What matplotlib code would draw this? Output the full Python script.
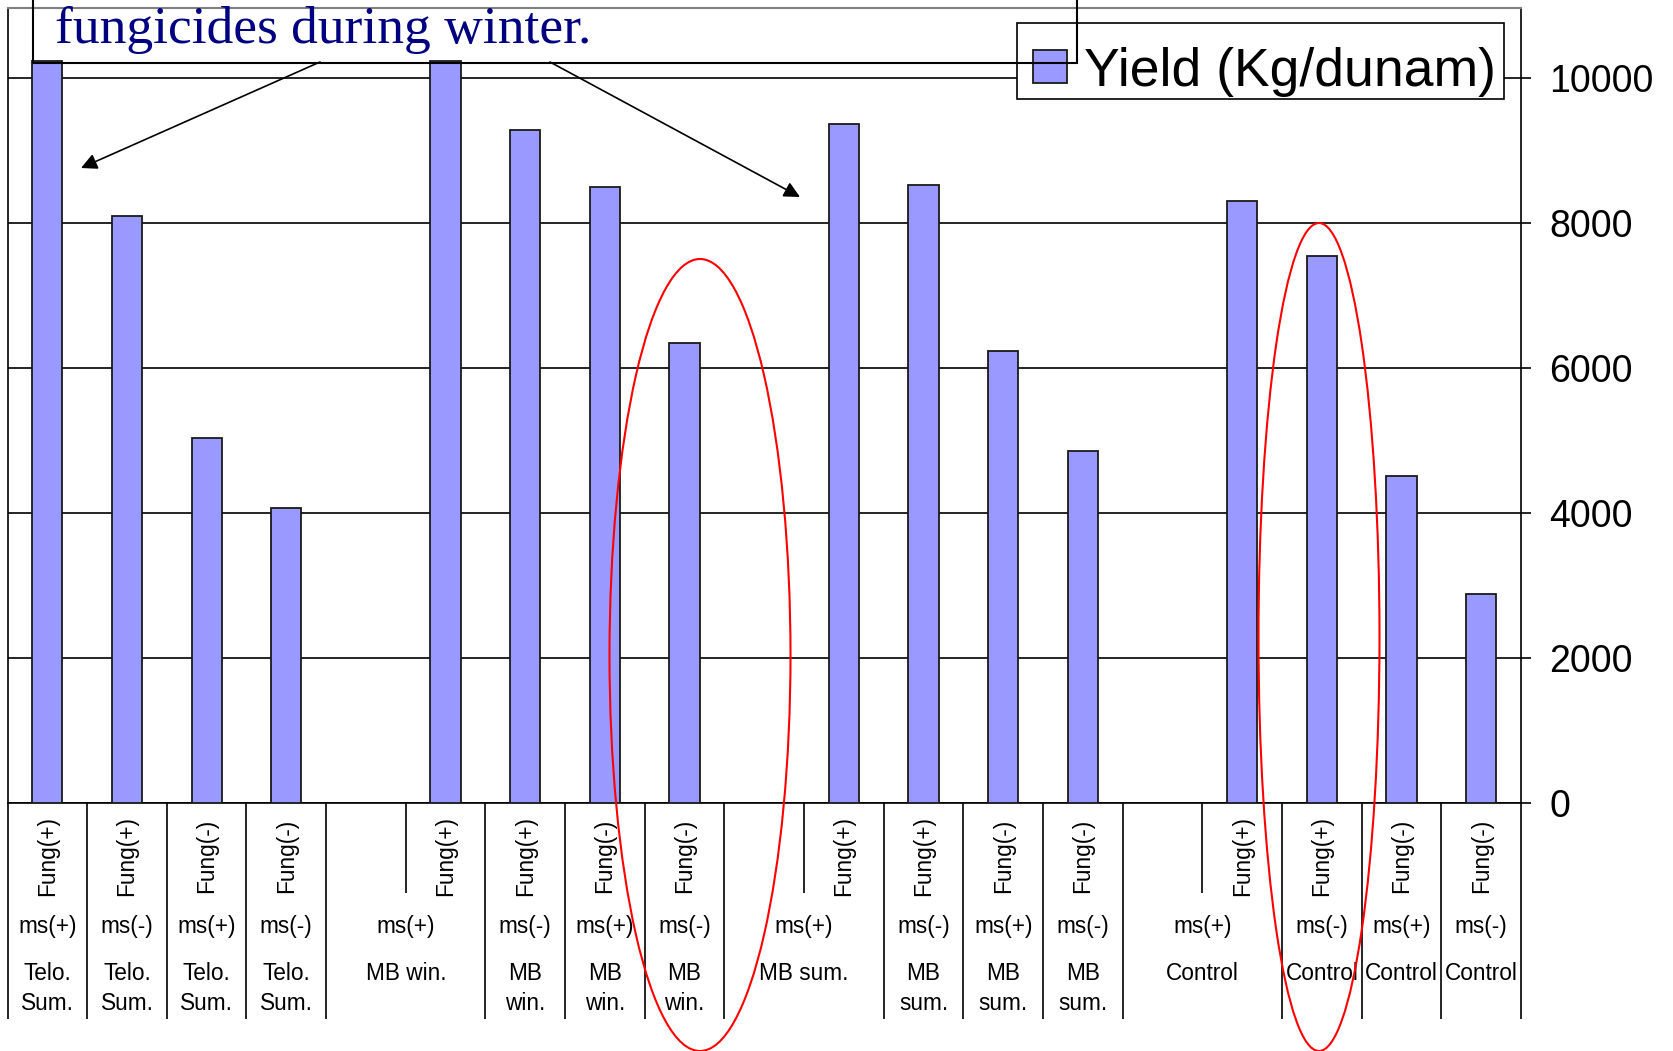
import matplotlib
matplotlib.use("Agg")
import matplotlib.pyplot as plt
from matplotlib.patches import Rectangle, Ellipse
from matplotlib.transforms import blended_transform_factory
import numpy as np

plt.rcParams['font.family'] = ['Liberation Sans', 'DejaVu Sans']

# ---- data ----
fung_labels = ["Fung(+)", "Fung(+)", "Fung(-)", "Fung(-)", "",
               "Fung(+)", "Fung(+)", "Fung(-)", "Fung(-)", "",
               "Fung(+)", "Fung(+)", "Fung(-)", "Fung(-)", "",
               "Fung(+)", "Fung(+)", "Fung(-)", "Fung(-)"]
yield_values = [10230, 8090, 5040, 4070, None,
                10230, 9280, 8500, 6340, None,
                9370, 8530, 6235, 4850, None,
                8310, 7545, 4510, 2880]
group_sizes = [1, 1, 1, 1, 2, 1, 1, 1, 2, 1, 1, 1, 2, 1, 1, 1]
ms_labels = ["ms(+)", "ms(-)", "ms(+)", "ms(-)", "ms(+)", "ms(-)", "ms(+)", "ms(-)",
             "ms(+)", "ms(-)", "ms(+)", "ms(-)", "ms(+)", "ms(-)", "ms(+)", "ms(-)"]
treat_labels = ["Telo.\nSum.", "Telo.\nSum.", "Telo.\nSum.", "Telo.\nSum.",
                "MB win.", "MB\nwin.", "MB\nwin.", "MB\nwin.",
                "MB sum.", "MB\nsum.", "MB\nsum.", "MB\nsum.",
                "Control", "Control", "Control", "Control"]
y_ticks = [0, 2000, 4000, 6000, 8000, 10000]
legend_label = "Yield (Kg/dunam)"
note_text = "fungicides during winter."

W, H = 1673, 1051
fig = plt.figure(figsize=(W / 100, H / 100), dpi=100)

ax_l, ax_r, ax_b, ax_t = 7.5, 1521, 803, 8
ax = fig.add_axes([ax_l / W, 1 - ax_b / H, (ax_r - ax_l) / W, (ax_b - ax_t) / H])
n = len(fung_labels)
px_per_unit = 72.5 / 1000.0
ax.set_xlim(0, n)
ax.set_ylim(0, (ax_b - ax_t) / px_per_unit)

xs = [i + 0.5 for i, v in enumerate(yield_values) if v is not None]
vs = [v for v in yield_values if v is not None]
ax.bar(xs, vs, width=0.38, color='#9999FF', edgecolor='#1a1a1a', linewidth=1.3, zorder=3)

ax.set_axisbelow(True)
ax.yaxis.grid(True, color='black', linewidth=1.2)
ax.xaxis.grid(False)
ax.set_xticks([])
ax.yaxis.tick_right()
ax.set_yticks(y_ticks)
ax.set_yticklabels([str(t) for t in y_ticks])
ax.tick_params(axis='y', direction='out', length=7.5, width=1.2, pad=13,
               labelsize=27, colors='black')
for s in ['left', 'right', 'bottom']:
    ax.spines[s].set_color('black')
    ax.spines[s].set_linewidth(1.2)
ax.spines['top'].set_color('#7f7f7f')
ax.spines['top'].set_linewidth(1.5)

# overlay in pixel coordinates
ov = fig.add_axes([0, 0, 1, 1])
ov.set_xlim(0, W)
ov.set_ylim(H, 0)
ov.axis('off')
ov.set_zorder(5)
trans = blended_transform_factory(ax.transData, ov.transData)

# category labels
lab_fs = 16.3
for i, fl in enumerate(fung_labels):
    if fl:
        ov.text(i + 0.5, 856, fl, transform=trans, rotation=90, ha='center',
                va='center', fontsize=lab_fs)

edges = [0]
for g in group_sizes:
    edges.append(edges[-1] + g)
for k, g in enumerate(group_sizes):
    c = edges[k] + g / 2.0
    ov.text(c, 926, ms_labels[k], transform=trans, ha='center', va='center', fontsize=lab_fs)
    ov.text(c, 962, treat_labels[k], transform=trans, ha='center', va='top',
            fontsize=lab_fs, linespacing=1.38)
    if g > 1:
        for j in range(1, g):
            ov.plot([edges[k] + j] * 2, [803, 893], transform=trans, color='black', lw=1.2,
                    solid_capstyle='butt')
for e in edges:
    ov.plot([e, e], [803, 1019], transform=trans, color='black', lw=1.2, solid_capstyle='butt')

# legend
ov.add_patch(Rectangle((1017, 23), 487, 76, facecolor='white', edgecolor='black', lw=1.2, zorder=2))
ov.add_patch(Rectangle((1033, 50), 34, 33, facecolor='#9999FF', edgecolor='#1a1a1a', lw=1.3, zorder=3))
ov.text(1084, 86, legend_label, fontsize=38.5, va='baseline', ha='left', zorder=3)

# note text box and arrows
ov.add_patch(Rectangle((33, -30), 1044, 93, fill=False, edgecolor='black', lw=1.5, zorder=4))
ov.text(55, 43, note_text, family=['Liberation Serif', 'DejaVu Serif'], fontsize=38.5,
        color='#000080', va='baseline', ha='left', zorder=4)
for (x0, y0), (x1, y1) in [((320, 62), (81, 168)), ((550, 62), (800, 197))]:
    ov.annotate('', xy=(x1, y1), xytext=(x0, y0),
                arrowprops=dict(arrowstyle='-|>', color='black', lw=1.2,
                                mutation_scale=24, shrinkA=0, shrinkB=0), zorder=4)

# red ellipses
ov.add_patch(Ellipse((700, 655), 181, 792, fill=False, edgecolor='red', lw=1.5, zorder=6))
ov.add_patch(Ellipse((1319, 637), 121, 828, fill=False, edgecolor='red', lw=1.5, zorder=6))

fig.savefig('out.png', dpi=100)
